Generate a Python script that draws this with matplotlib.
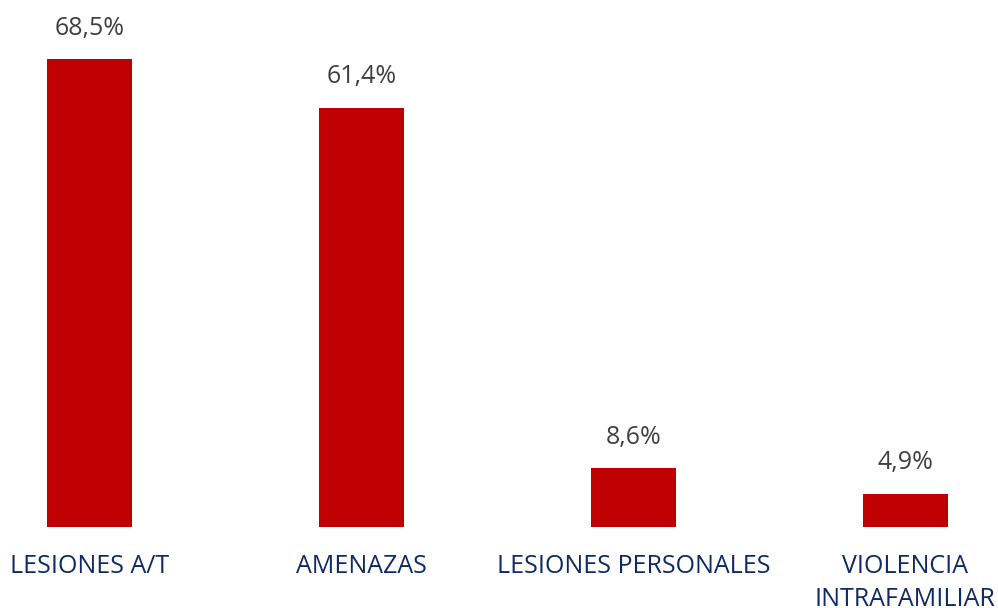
import matplotlib.pyplot as plt

# Datos
categorias = ["LESIONES A/T", "AMENAZAS", "LESIONES PERSONALES", "VIOLENCIA\nINTRAFAMILIAR"]
porcentajes = [68.5, 61.4, 8.6, 4.9]

rojo = "#C00000"
gris = "#404040"
azul = "#0E2A66"

fig = plt.figure(figsize=(9.98, 6.08), dpi=100)
ax = fig.add_axes([0, 0, 1, 1])

x = list(range(len(categorias)))
barras = ax.bar(x, porcentajes, width=0.313, color=rojo)

for xi, v in zip(x, porcentajes):
    ax.annotate(f"{v:.1f}%".replace(".", ","), (xi, v), xytext=(0, 31),
                textcoords="offset pixels", ha="center", va="center",
                fontsize=18, color=gris, family="Open Sans")

for xi, cat in zip(x, categorias):
    ax.annotate(cat, (xi, 0), xytext=(0, -27), textcoords="offset pixels",
                ha="center", va="top", fontsize=18, color=azul,
                family="Open Sans", linespacing=1.4)

ax.set_xlim(-0.331, 3.342)
ax.set_ylim(-11.86, 77.16)
ax.axis("off")

fig.savefig("out.png", dpi=100)
